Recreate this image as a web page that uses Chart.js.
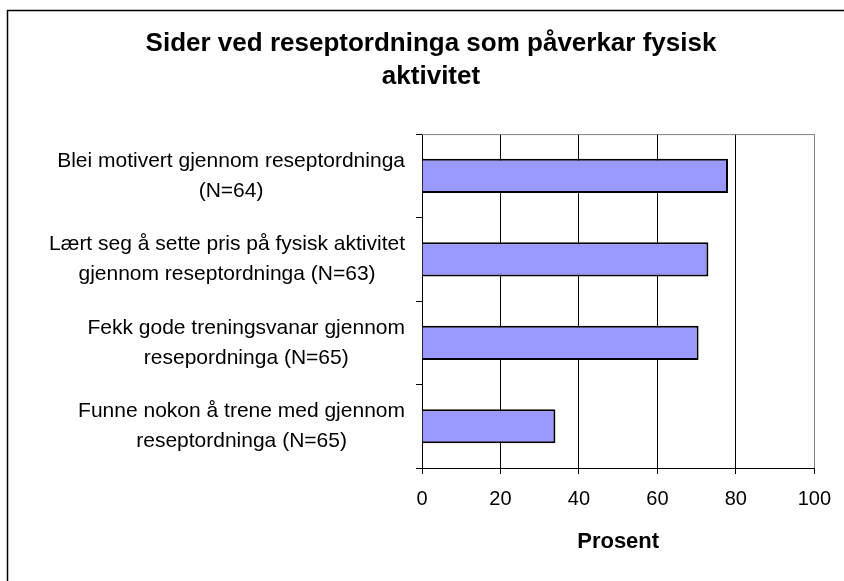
<!DOCTYPE html>
<html>
<head>
<meta charset="utf-8">
<script src="https://cdn.jsdelivr.net/npm/chart.js@4"></script>
<style>
    html, body { margin: 0; padding: 0; background: #fff; }
    #wrap { width: 844px; height: 581px; position: relative; }
</style>
</head>
<body>
<div id="wrap"><canvas id="chartSider"></canvas></div>
<script>
/**
 * Data
 */
const titleLines = ['Sider ved reseptordninga som påverkar fysisk', 'aktivitet'];
const categories = [
    ['Blei motivert gjennom reseptordninga', '(N=64)'],
    ['Lært seg å sette pris på fysisk aktivitet', 'gjennom reseptordninga (N=63)'],
    ['Fekk gode treningsvanar gjennom', 'resepordninga (N=65)'],
    ['Funne nokon å trene med gjennom', 'reseptordninga (N=65)']
];
const prosent = [78, 73, 70.5, 34];
const xTicks = [0, 20, 40, 60, 80, 100];
const axisTitle = 'Prosent';

/**
 * Font
 */
const family = '"Liberation Sans", Arial, sans-serif';
Chart.defaults.font.family = family;
Chart.defaults.color = '#000';

/**
 * Frame + plot border
 */
const frame = {
    id: 'frame',
    beforeDraw(chart) {
        const ctx = chart.ctx;
        ctx.save();
        ctx.fillStyle = '#fff';
        ctx.fillRect(0, 0, chart.width, chart.height);
        ctx.strokeStyle = '#000';
        ctx.lineWidth = 1.5;
        ctx.beginPath();
        ctx.moveTo(7.5, chart.height);
        ctx.lineTo(7.5, 10.5);
        ctx.lineTo(chart.width, 10.5);
        ctx.stroke();
        ctx.restore();
    },
    beforeDatasetsDraw(chart) {
        const { ctx, chartArea: a } = chart;
        ctx.save();
        ctx.strokeStyle = '#808080';
        ctx.lineWidth = 1;
        ctx.beginPath();
        ctx.moveTo(a.left, a.top + 0.5);
        ctx.lineTo(a.right, a.top + 0.5);
        ctx.stroke();
        ctx.restore();
    }
};

/**
 * Category labels (right block, lines centred)
 */
const categoryLabels = {
    id: 'categoryLabels',
    afterDraw(chart) {
        const scale = chart.scales.y;
        const ctx = chart.ctx;
        ctx.save();
        ctx.font = '21px ' + family;
        ctx.fillStyle = '#000';
        ctx.textAlign = 'center';
        ctx.textBaseline = 'middle';
        const right = scale.right - 17;
        categories.forEach((lines, i) => {
            const y = scale.getPixelForTick(i);
            const w = Math.max(...lines.map(l => ctx.measureText(l).width));
            const x = right - w / 2;
            lines.forEach((line, j) => {
                ctx.fillText(line, x, y + (j - (lines.length - 1) / 2) * 30);
            });
        });
        ctx.restore();
    }
};

/**
 * Chart
 */
new Chart(document.getElementById('chartSider'), {
    type: 'bar',
    data: {
        labels: categories,
        datasets: [{
            data: prosent,
            backgroundColor: '#9999ff',
            borderColor: '#000',
            borderWidth: 2,
            barPercentage: 0.41,
            categoryPercentage: 1
        }]
    },
    options: {
        indexAxis: 'y',
        responsive: true,
        maintainAspectRatio: false,
        animation: false,
        layout: { padding: { left: 46, right: 28, top: 0, bottom: 0 } },
        plugins: {
            legend: { display: false },
            tooltip: { enabled: false },
            title: {
                display: true,
                text: titleLines,
                color: '#000',
                font: { size: 26, weight: 'bold', lineHeight: 1.3 },
                padding: { top: 26.5, bottom: 40 }
            }
        },
        scales: {
            x: {
                min: 0,
                max: 100,
                afterBuildTicks: s => { s.ticks = xTicks.map(v => ({ value: v })); },
                grid: {
                    color: c => (c.tick && c.tick.value === 100 ? '#808080' : '#000'),
                    tickColor: '#000',
                    tickLength: 6
                },
                border: { color: '#000', width: 1 },
                ticks: { color: '#000', font: { size: 20 }, padding: 13, maxRotation: 0 },
                title: {
                    display: true,
                    text: axisTitle,
                    color: '#000',
                    font: { size: 22, weight: 'bold' },
                    padding: { top: 0, bottom: 26 }
                },
                afterFit: s => { s.height = 113; }
            },
            y: {
                grid: { drawOnChartArea: false, color: '#000', tickLength: 6 },
                border: { color: '#000', width: 1 },
                ticks: { display: false },
                afterFit: s => { s.width = 376; }
            }
        }
    },
    plugins: [frame, categoryLabels]
});
</script>
</body>
</html>
